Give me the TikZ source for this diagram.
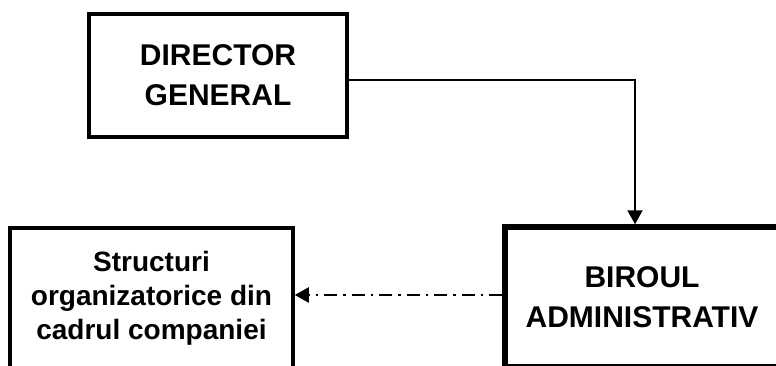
\documentclass[tikz,border=0pt]{standalone}
\usepackage{fontspec}
\setmainfont{Liberation Sans}
\usetikzlibrary{arrows.meta}
\begin{document}
\begin{tikzpicture}[x=1pt,y=1pt,
    box/.style={draw,line width=3.5pt,align=center,font=\bfseries\fontsize{30}{40}\selectfont,inner sep=0pt},
    flow/.style={line width=2pt,-{Triangle[length=14pt,width=15pt]}}]
      \clip (0,0) rectangle (776,365);
      \node[box,minimum width=258,minimum height=123] (dir) at (218,289.5) {DIRECTOR\\GENERAL};
      \node[box,line width=5.5pt,minimum width=274,minimum height=140] (bir) at (642,68) {BIROUL\\ADMINISTRATIV};
      \node[box,minimum width=283,minimum height=140,font=\bfseries\fontsize{28}{34}\selectfont] (str) at (151.5,67) {Structuri\\organizatorice din\\cadrul companiei};
      \begin{scope}[flow]
        \draw ([yshift=-4.5]dir.east) -| ([xshift=-7]bir.north);
        \draw[dash pattern=on 13pt off 6pt on 2.5pt off 6pt] (bir.west |- 0,70) -- (str.east |- 0,70);
      \end{scope}
    \end{tikzpicture}
\end{document}
